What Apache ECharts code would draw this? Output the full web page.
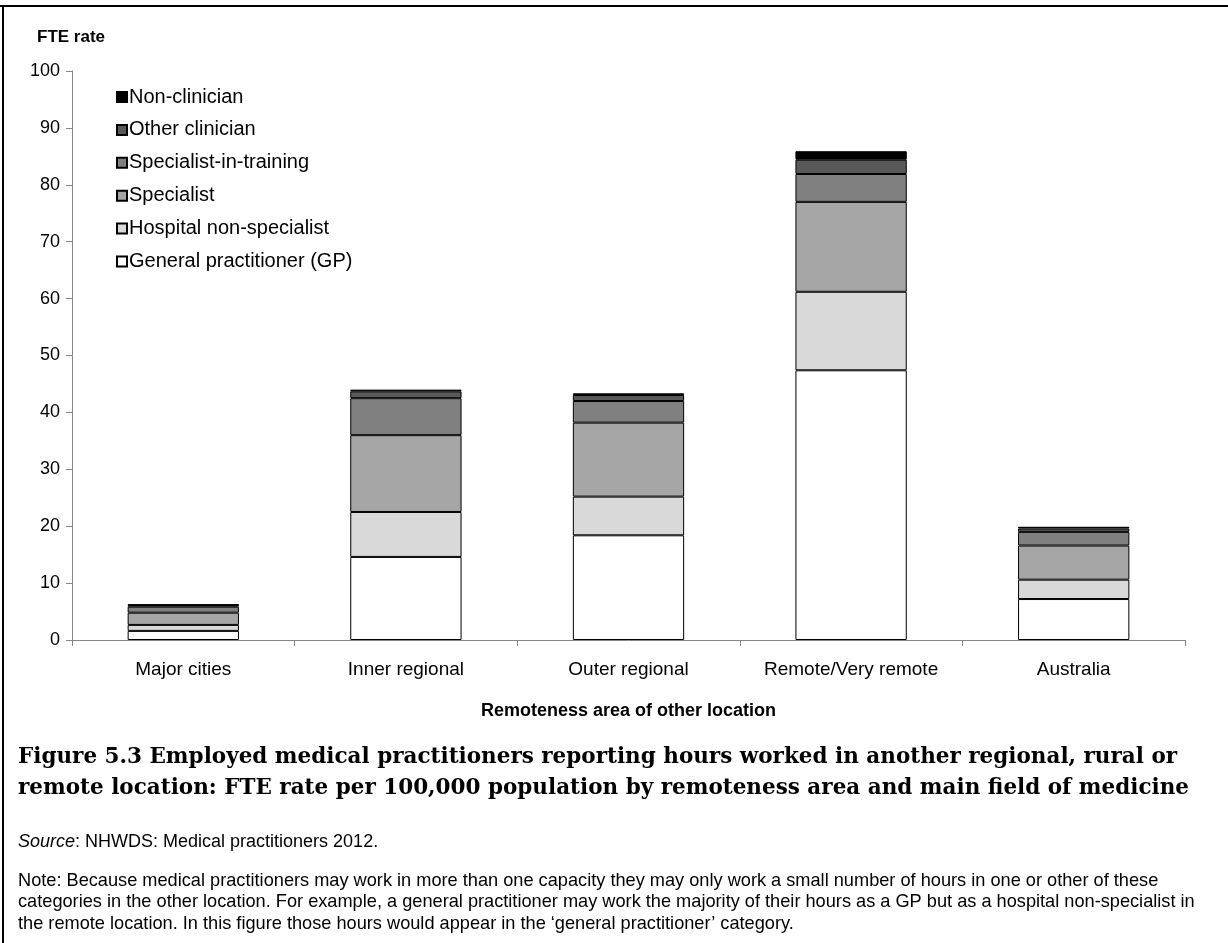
<!DOCTYPE html>
<html>
<head>
<meta charset="utf-8">
<script src="https://cdn.jsdelivr.net/npm/echarts@6/dist/echarts.min.js"></script>
<style>
  html, body { margin: 0; padding: 0; background: #fff; }
  #chart { width: 1228px; height: 943px; }
</style>
</head>
<body>
<div id="chart"></div>
<script>
// Remoteness areas (x categories)
const categories = ['Major cities', 'Inner regional', 'Outer regional', 'Remote/Very remote', 'Australia'];

// FTE rate per 100,000 population, by main field of medicine
const generalPractitioner = [1.6, 14.6, 18.4, 47.4, 7.2];
const hospitalNonSpecialist = [1.05, 7.9, 6.8, 13.8, 3.4];
const specialist = [2.15, 13.5, 13.0, 15.8, 6.0];
const specialistInTraining = [1.05, 6.5, 3.8, 4.9, 2.4];
const otherClinician = [0.3, 1.2, 1.05, 2.5, 0.6];
const nonClinician = [0.1, 0.3, 0.3, 1.5, 0.3];

const seriesNames = ['General practitioner (GP)', 'Hospital non-specialist', 'Specialist',
  'Specialist-in-training', 'Other clinician', 'Non-clinician'];
const seriesValues = [generalPractitioner, hospitalNonSpecialist, specialist,
  specialistInTraining, otherClinician, nonClinician];
const seriesColors = ['#ffffff', '#d9d9d9', '#a6a6a6', '#808080', '#595959', '#000000'];

const yTicks = { min: 0, max: 100, interval: 10 };

const sans = 'Arial, "Liberation Sans", sans-serif';
const serif = '"DejaVu Serif", "Liberation Serif", serif';

const chart = echarts.init(document.getElementById('chart'), null, { renderer: 'canvas' });

const series = seriesNames.map((name, i) => ({
  name: name,
  type: 'bar',
  stack: 'fte',
  barWidth: '50%',
  data: seriesValues[i],
  itemStyle: { color: seriesColors[i], borderColor: '#000', borderWidth: 1 },
  emphasis: { disabled: true }
}));

chart.setOption({
  animation: false,
  backgroundColor: '#fff',
  grid: { left: 72, right: 43, top: 71, bottom: 303, containLabel: false },
  legend: {
    orient: 'vertical',
    left: 111,
    top: 82,
    itemWidth: 10,
    itemHeight: 10,
    itemGap: 12.9,
    icon: 'rect',
    data: seriesNames.slice().reverse(),
    textStyle: { fontFamily: sans, fontSize: 20, color: '#000', padding: [0, 0, 0, -3] },
    selectedMode: false
  },
  xAxis: {
    type: 'category',
    data: categories,
    name: 'Remoteness area of other location',
    nameLocation: 'middle',
    nameGap: 62,
    nameTextStyle: { fontFamily: sans, fontSize: 18, fontWeight: 'bold', color: '#000' },
    axisLine: { lineStyle: { color: '#868686', width: 1 } },
    axisTick: { show: true, alignWithLabel: false, interval: 0, length: 6, lineStyle: { color: '#868686' } },
    axisLabel: { interval: 0, fontFamily: sans, fontSize: 19, color: '#000', margin: 20 }
  },
  yAxis: {
    type: 'value',
    min: yTicks.min,
    max: yTicks.max,
    interval: yTicks.interval,
    axisLine: { show: true, lineStyle: { color: '#868686', width: 1 } },
    axisTick: { show: true, length: 6, lineStyle: { color: '#868686' } },
    axisLabel: { fontFamily: sans, fontSize: 18, color: '#000', margin: 12 },
    splitLine: { show: false }
  },
  series: series,
  graphic: [
    // frame lines along the top and left
    { type: 'line', shape: { x1: 0, y1: 6, x2: 1228, y2: 6 }, style: { stroke: '#000', lineWidth: 2 } },
    { type: 'line', shape: { x1: 3, y1: 5, x2: 3, y2: 943 }, style: { stroke: '#000', lineWidth: 2 } },
    { type: 'text', left: 37, top: 29,
      style: { text: 'FTE rate', font: 'bold 17px ' + sans, fill: '#000' } },
    { type: 'text', left: 18, top: 742,
      style: { text: 'Figure 5.3 Employed medical practitioners reporting hours worked in another regional, rural or\nremote location: FTE rate per 100,000 population by remoteness area and main field of medicine',
        font: 'bold 21.5px ' + serif, fill: '#000', lineHeight: 31 } },
    { type: 'text', left: 18, top: 833,
      style: {
        text: '{i|Source}: NHWDS: Medical practitioners 2012.',
        font: '18px ' + sans, fill: '#000',
        rich: { i: { fontStyle: 'italic', fontFamily: sans, fontSize: 18, fill: '#000' } }
      } },
    { type: 'text', left: 18, top: 870,
      style: { text: 'Note: Because medical practitioners may work in more than one capacity they may only work a small number of hours in one or other of these\ncategories in the other location. For example, a general practitioner may work the majority of their hours as a GP but as a hospital non-specialist in\nthe remote location. In this figure those hours would appear in the \u2018general practitioner\u2019 category.',
        font: '18.2px ' + sans, fill: '#000', lineHeight: 21.5 } }
  ]
});
</script>
</body>
</html>
